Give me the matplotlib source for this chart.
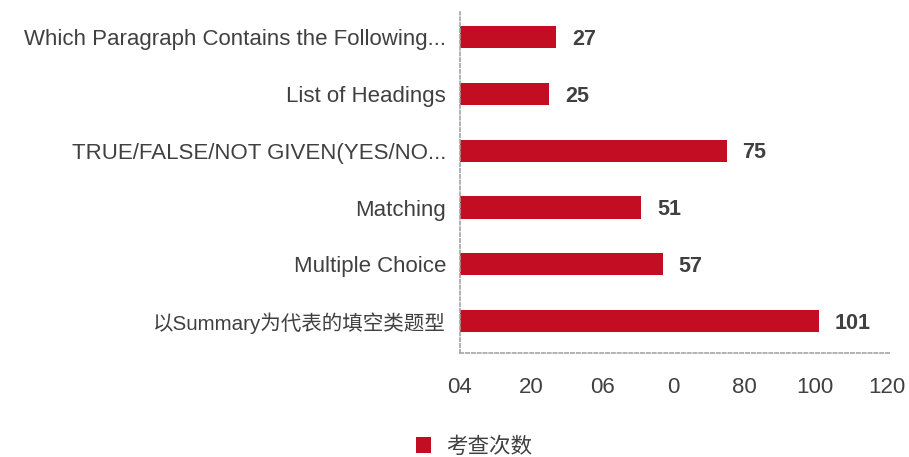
import matplotlib
matplotlib.use('Agg')
import matplotlib.pyplot as plt

plt.rcParams['font.family'] = ['Liberation Sans', 'Noto Sans CJK SC']

# data
categories = ['Which Paragraph Contains the Following...',
              'List of Headings',
              'TRUE/FALSE/NOT GIVEN(YES/NO...',
              'Matching',
              'Multiple Choice',
              '以Summary为代表的填空类题型']
counts = [27, 25, 75, 51, 57, 101]
xticks = [0, 20, 40, 60, 80, 100, 120]
xtick_labels = ['04', '20', '06', '0', '80', '100', '120']
series_name = '考查次数'

bar_color = '#C30D23'
text_color = '#404040'

fig = plt.figure(figsize=(9.09, 4.57), dpi=100)
ax = fig.add_axes([460 / 909, 1 - 353 / 457, 430 / 909, 341 / 457])

ypos = list(range(len(categories)))
bars = ax.barh(ypos, counts, height=0.39, color=bar_color, label=series_name)
for y, v in zip(ypos, counts):
    ax.text(v + 4.5, y + 0.04, str(v), va='center', ha='left', fontsize=15.5,
            fontweight='bold', color=text_color)

ax.set_yticks(ypos)
ax.set_yticklabels(categories, fontsize=16, color=text_color)
ax.get_yticklabels()[-1].set_fontsize(14.8)  # CJK label is narrower in the original
ax.set_ylim(5.56, -0.44)
ax.set_xlim(0, 121)
ax.set_xticks(xticks)
ax.set_xticklabels(xtick_labels, fontsize=16, color=text_color)
ax.tick_params(axis='both', length=0)
ax.tick_params(axis='x', pad=17)
ax.tick_params(axis='y', pad=10)

for s in ['top', 'right']:
    ax.spines[s].set_visible(False)
for s in ['left', 'bottom']:
    ax.spines[s].set_linestyle((0, (2, 1.5)))
    ax.spines[s].set_color('#a6a6a6')
    ax.spines[s].set_linewidth(1.2)

fig.legend(handles=[bars], labels=[series_name], loc='center',
           bbox_to_anchor=(474 / 909, 1 - 447 / 457), frameon=False,
           fontsize=15.5, handlelength=0.7, handleheight=0.7,
           handletextpad=0.7, labelcolor=text_color)

plt.savefig('out.png', dpi=100)
